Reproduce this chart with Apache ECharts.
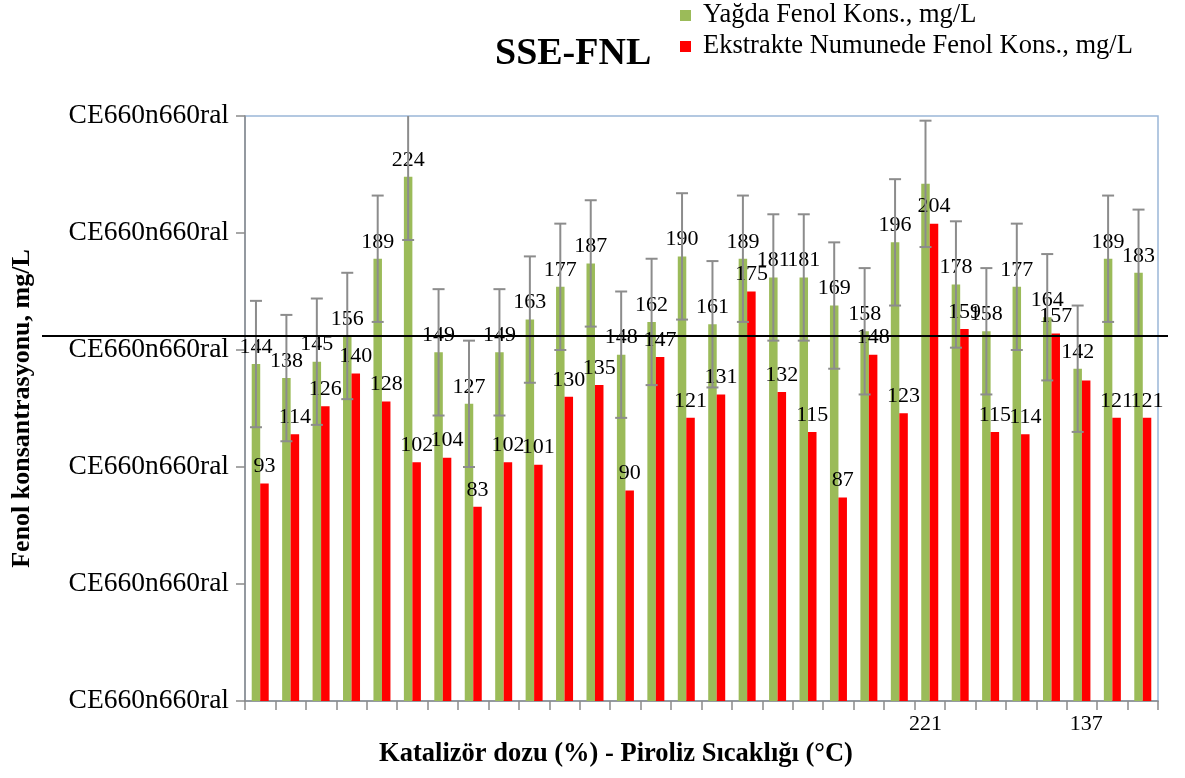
<!DOCTYPE html>
<html>
<head>
<meta charset="utf-8">
<script src="https://cdn.jsdelivr.net/npm/echarts@6/dist/echarts.min.js"></script>
<style>
  html, body { margin: 0; padding: 0; background: #ffffff; }
  #chart { width: 1185px; height: 778px; }
</style>
</head>
<body>
<div id="chart"></div>
<script>
// Sample numbers (catalyst dose / pyrolysis temperature runs)
const categories = ['1','2','3','4','5','6','7','8','9','10','11','12','13','14','15',
                    '16','17','18','19','20','21','22','23','24','25','26','27','28','29','30'];

// Phenol in oil, mg/L
const oilPhenol = [144, 138, 145, 156, 189, 224, 149, 127, 149, 163,
                   177, 187, 148, 162, 190, 161, 189, 181, 181, 169,
                   158, 196, 221, 178, 158, 177, 164, 142, 189, 183];

// Phenol in extracted sample, mg/L
const extractPhenol = [93, 114, 126, 140, 128, 102, 104, 83, 102, 101,
                       130, 135, 90, 147, 121, 131, 175, 132, 115, 87,
                       148, 123, 204, 159, 115, 114, 157, 137, 121, 121];

// Error (+/-) on the oil series, mg/L
const oilPhenolError = [27, 27, 27, 27, 27, 27, 27, 27, 27, 27,
                        27, 27, 27, 27, 27, 27, 27, 27, 27, 27,
                        27, 27, 27, 27, 27, 27, 27, 27, 27, 27];

const yTickLabel = 'CE660n660ral';
const yMin = 0, yMax = 250, yStep = 50;
const referenceLevel = 156;

// points whose value label sits below the category axis
const oilLabelBelow = [22];
const extractLabelBelow = [27];

const seriesNames = ['Yağda Fenol Kons., mg/L', 'Ekstrakte Numunede Fenol Kons., mg/L'];

const FONT = "'Liberation Serif', 'Times New Roman', serif";
const BAR_W = 8.5;
const AXIS_GREY = '#8a8a8a';

const valueLabel = {
  show: true,
  position: 'top',
  distance: 6,
  fontFamily: FONT,
  fontSize: 22,
  color: '#000'
};

function withBelowLabels(values, belowIdx) {
  return values.map((v, i) => belowIdx.includes(i)
    ? { value: v, label: { position: 'bottom', distance: 12 } }
    : v);
}

const chart = echarts.init(document.getElementById('chart'), null, { renderer: 'canvas' });

const option = {
  backgroundColor: '#ffffff',
  animation: false,
  title: {
    text: 'SSE-FNL',
    left: 490,
    top: 30,
    textStyle: { fontFamily: FONT, fontSize: 38, fontWeight: 'bold', color: '#000' }
  },
  legend: {
    data: seriesNames,
    orient: 'vertical',
    left: 680,
    top: 2,
    padding: 0,
    icon: 'rect',
    itemWidth: 11,
    itemHeight: 11,
    itemGap: 4,
    textStyle: { fontFamily: FONT, fontSize: 26.5, color: '#000', lineHeight: 26, padding: [0, 0, 0, 7] }
  },
  grid: {
    left: 245,
    right: 27,
    top: 116,
    bottom: 77,
    show: true,
    borderColor: '#9ab6d8',
    borderWidth: 1.5,
    backgroundColor: 'transparent'
  },
  xAxis: {
    type: 'category',
    data: categories,
    name: 'Katalizör dozu (%) - Piroliz Sıcaklığı (°C)',
    nameLocation: 'middle',
    nameGap: 40,
    nameTextStyle: { fontFamily: FONT, fontSize: 26.5, fontWeight: 'bold', color: '#000', padding: [0, 171, 0, 0] },
    axisLine: { lineStyle: { color: AXIS_GREY, width: 1.5 } },
    axisTick: { show: true, length: 9, lineStyle: { color: AXIS_GREY, width: 1.5 } },
    axisLabel: { show: false },
    splitLine: { show: false }
  },
  yAxis: {
    type: 'value',
    min: yMin,
    max: yMax,
    interval: yStep,
    name: 'Fenol konsantrasyonu, mg/L',
    nameLocation: 'middle',
    nameGap: 210,
    nameTextStyle: { fontFamily: FONT, fontSize: 26, fontWeight: 'bold', color: '#000' },
    axisLine: { show: true, lineStyle: { color: AXIS_GREY, width: 1.5 } },
    axisTick: { show: true, length: 9, lineStyle: { color: AXIS_GREY, width: 1.5 } },
    axisLabel: {
      formatter: () => yTickLabel,
      fontFamily: FONT,
      fontSize: 27.5,
      color: '#000',
      margin: 16
    },
    splitLine: { show: false }
  },
  series: [
    {
      name: seriesNames[0],
      type: 'bar',
      data: withBelowLabels(oilPhenol, oilLabelBelow),
      barWidth: BAR_W,
      barGap: '0%',
      itemStyle: { color: '#9bbb59' },
      label: valueLabel,
      z: 2
    },
    {
      name: seriesNames[1],
      type: 'bar',
      data: withBelowLabels(extractPhenol, extractLabelBelow),
      barWidth: BAR_W,
      barGap: '0%',
      itemStyle: { color: '#ff0000' },
      label: valueLabel,
      z: 2
    },
    {
      name: 'errorBars',
      type: 'custom',
      data: oilPhenol.map((v, i) => [i, v, oilPhenolError[i]]),
      z: 5,
      silent: true,
      renderItem: function (params, api) {
        const idx = api.value(0);
        const v = api.value(1);
        const e = api.value(2);
        const hiVal = Math.min(v + e, yMax);
        const loVal = Math.max(v - e, yMin);
        const hi = api.coord([idx, hiVal]);
        const lo = api.coord([idx, loVal]);
        const x = hi[0] - BAR_W / 2;
        const capHalf = 6;
        const style = { stroke: '#8c8c8c', lineWidth: 2 };
        const children = [
          { type: 'line', shape: { x1: x, y1: hi[1], x2: x, y2: lo[1] }, style: style },
          { type: 'line', shape: { x1: x - capHalf, y1: lo[1], x2: x + capHalf, y2: lo[1] }, style: style }
        ];
        if (v + e <= yMax) {
          children.push({ type: 'line', shape: { x1: x - capHalf, y1: hi[1], x2: x + capHalf, y2: hi[1] }, style: style });
        }
        return { type: 'group', children: children };
      }
    }
  ]
};

chart.setOption(option);

// horizontal reference line across the whole chart width
const refY = chart.convertToPixel({ yAxisIndex: 0 }, referenceLevel);
chart.setOption({
  graphic: [{
    type: 'line',
    z: 100,
    shape: { x1: 42, y1: refY, x2: 1168, y2: refY },
    style: { stroke: '#000000', lineWidth: 2 }
  }]
});
</script>
</body>
</html>
